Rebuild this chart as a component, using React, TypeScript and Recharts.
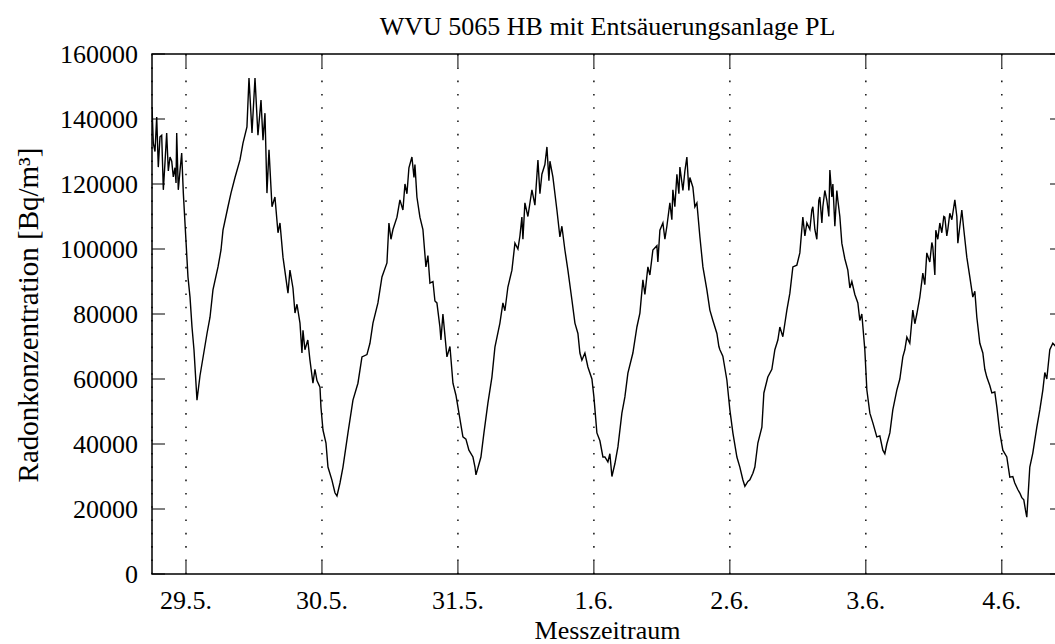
import {
  LineChart,
  Line,
  XAxis,
  YAxis,
  CartesianGrid,
  ReferenceArea,
} from "recharts";

// hours since 29.5. 00:00
const hours = [
  -6.0, -5.77, -5.47, -5.17, -4.89, -4.59, -4.29, -4.0, -3.71, -3.41,
  -3.12, -2.82, -2.52, -2.24, -1.94, -1.76, -1.64, -1.36, -1.06, -0.76,
  -0.47,
  0.35, 0.71, 1.06, 1.41, 1.94, 2.47, 3.71, 4.24, 4.76, 5.65,
  6.18, 6.53, 7.41, 7.94, 8.65, 9.53, 10.06, 10.76, 11.12, 11.65,
  12.18, 12.7, 13.24, 13.59, 13.94, 14.29, 14.65, 15.18, 15.7, 16.24,
  16.59, 17.12, 18.0, 18.35, 18.88, 19.24, 19.59, 20.12, 20.47, 20.65,
  20.99, 21.5, 21.88, 22.41, 22.76, 23.12, 23.65, 23.82, 24.18, 24.71,
  25.06, 25.76, 26.29, 26.65, 27.18, 27.71, 28.59, 29.47, 30.35, 31.06,
  31.94, 32.47, 33.0, 33.88, 34.59, 35.47, 35.82, 36.18, 36.53, 37.24,
  37.76, 38.29, 38.65, 39.0, 39.35, 39.88, 40.24, 40.41, 40.76, 41.29,
  41.82, 42.35, 42.7, 43.06, 43.59, 43.94, 44.29, 44.82, 45.0, 45.35,
  46.06, 46.59, 47.12,
  47.65, 48.18, 48.88, 49.41, 49.94, 50.65, 51.0, 51.18, 52.06, 52.59,
  53.29, 54.0, 54.53, 55.41, 55.94, 56.29, 56.82, 57.53, 58.06, 58.59,
  58.94, 59.29, 59.47, 59.82, 60.35, 61.06, 61.59, 62.12, 62.47, 62.82,
  63.35, 63.71, 64.06, 64.24, 64.76, 65.47, 66.0, 66.35, 66.88, 67.41,
  68.12, 68.65, 69.18, 69.53, 69.88, 70.41, 70.94, 71.65, 72.0, 72.53,
  73.06, 73.59,
  73.94, 74.47, 74.82, 75.18, 75.71, 76.24, 76.94, 77.47, 78.0, 78.88,
  79.59, 80.12, 80.65, 81.0, 81.53, 81.88, 82.41, 83.12, 83.29, 83.65,
  84.18, 84.53, 84.88, 85.41, 85.76, 85.94, 86.29, 86.65, 87.0, 87.18,
  87.71, 88.06, 88.41, 88.76, 88.94, 89.47, 89.82, 90.18, 90.71, 91.24,
  91.94, 92.47, 93.0, 93.71, 94.06, 94.24, 94.76, 95.47, 96.0, 96.53,
  97.24, 97.76, 98.29, 98.65, 99.18, 99.53,
  100.06, 100.41, 100.94, 101.65, 102.0, 102.7, 103.41, 103.94, 104.47, 104.82,
  105.35, 106.06, 106.59, 107.12, 107.82, 108.35, 108.88, 109.24, 109.59, 110.12,
  110.47, 110.65, 111.0, 111.35, 111.7, 111.88, 112.24, 112.41, 112.76, 113.12,
  113.47, 113.65, 114.0, 114.18, 114.53, 114.88, 115.06, 115.41, 115.76, 116.29,
  116.82, 117.18, 117.53, 118.06, 118.59, 118.94, 119.29, 119.82, 120.18, 120.71,
  121.24, 121.94, 122.47, 123.0, 123.35, 123.7, 124.24, 124.76, 125.47, 126.0,
  126.53,
  126.88, 127.24, 127.76, 128.29, 128.65, 129.0, 129.53, 130.06, 130.41, 130.76,
  131.29, 131.65, 131.82, 132.18, 132.35, 132.7, 133.06, 133.41, 133.76, 133.94,
  134.29, 134.47, 134.82, 135.18, 135.71, 136.06, 136.24, 136.59, 136.94, 137.29,
  137.82, 138.35, 138.88, 139.24, 139.59, 140.12, 140.65, 141.0, 141.35, 141.88,
  142.24, 142.76, 143.12, 143.65, 144.18, 144.88, 145.41, 145.94, 146.29, 146.82,
  147.18, 147.53, 147.88, 148.24, 148.41, 148.94, 149.47, 150.18, 150.71, 151.24,
  151.59, 151.94, 152.47, 153.0, 153.53,
];

// Bq/m³
const radon = [
  143700, 132600, 130000, 140600, 125200, 134500, 135000, 118200, 126500, 135700,
  124000, 128300, 127000, 122200, 125000, 120300, 135700, 118200, 124000, 129500,
  117200,
  91400, 85200, 76000, 69000, 53500, 61000, 74000, 79000, 87400, 94500,
  99700, 105800, 113000, 117200, 122000, 127400, 132600, 137600, 152600, 135700,
  152600, 135000, 145800, 133500, 141800, 117200, 130500, 113000, 116000, 105000,
  108000, 97500, 86400, 93500, 88000, 80300, 83000, 77200, 68000, 75000,
  69000, 72000, 65800, 58700, 63000, 59500, 57500, 51400, 44300, 40300,
  32900, 28900, 25000, 24000, 28000, 32900, 43400, 53500, 58700, 66800,
  67500, 71000, 77200, 83400, 91400, 95700, 108000, 103000, 106000, 109800,
  115100, 112000, 120000, 117000, 125000, 128300, 122000, 126000, 116000, 109800,
  106000, 94500, 98000, 89500, 90000, 84000, 83400, 76000, 72000, 80000,
  66800, 70000, 58700,
  55000, 49500, 42200, 41500, 38100, 36000, 33000, 30500, 36000, 43400,
  52600, 60600, 69800, 77200, 83400, 81000, 88300, 93500, 101800, 100000,
  104000, 109800, 103000, 114200, 110000, 118200, 113500, 127400, 117000, 123000,
  126000, 131400, 121000, 127000, 122200, 112000, 103700, 107000, 99700, 93500,
  84300, 77200, 74000, 68000, 65800, 68000, 63700, 60000, 54500, 43400,
  41000, 36000,
  36000, 34500, 37000, 30000, 34000, 39100, 49500, 54500, 61800, 68000,
  76000, 80300, 90500, 86000, 94500, 92000, 99700, 101000, 96000, 105800,
  108000, 103000, 107000, 114200, 109000, 118200, 113000, 123000, 117000, 125200,
  118000, 124000, 128300, 118000, 122000, 119000, 113000, 114200, 103700, 94500,
  87400, 81200, 78000, 74000, 70000, 69000, 67000, 59700, 50500, 43400,
  36000, 32900, 29000, 27000, 28500, 29000,
  31000, 32900, 40300, 45200, 55700, 60600, 63000, 69000, 72000, 76000,
  73000, 81200, 86400, 94500, 95000, 98800, 109800, 104000, 108000, 106000,
  112000, 113000, 106000, 103000, 115000, 116000, 108000, 113000, 118000, 115000,
  110000, 124300, 116000, 120000, 107000, 118000, 115000, 110000, 101800, 97000,
  93500, 88000, 90000, 86000, 83400, 78000, 80000, 69000, 56600, 49500,
  46500, 42200, 42500, 38100, 37000, 40000, 43400, 50500, 56600, 60000,
  66800,
  69000, 72900, 71000, 81200, 77000, 80000, 85200, 92600, 89000, 98800,
  96000, 102000, 100600, 92000, 105800, 103000, 108000, 105000, 110000, 109800,
  104000, 106000, 111000, 109000, 115100, 110000, 101800, 107000, 112000, 106000,
  97500, 91400, 85200, 87000, 79000, 71000, 68000, 63000, 60600, 58000,
  55700, 56000, 51400, 43400, 38100, 36000, 29800, 30000, 28000, 26000,
  24900, 23500, 22800, 19000, 17500, 32900, 37200, 45200, 50500, 56600,
  62000, 60000, 69000, 71000, 70000,
];

const dayTicks = [0, 24, 48, 72, 96, 120, 144];
const dayLabels = ["29.5.", "30.5.", "31.5.", "1.6.", "2.6.", "3.6.", "4.6."];
const yTicks = [0, 20000, 40000, 60000, 80000, 100000, 120000, 140000, 160000];

const data = hours.map((h, i) => ({ h, v: radon[i] }));

const FONT = "'Liberation Serif', 'Times New Roman', serif";
const PLOT_LEFT = 152;
const PLOT_RIGHT = 1063;
const PLOT_TOP = 54;
const PLOT_BOTTOM = 574;
const TICK_LEN = 13;

function YTick({ y, payload }: any) {
  return (
    <g>
      <line x1={PLOT_LEFT} x2={PLOT_LEFT + TICK_LEN} y1={y} y2={y} stroke="#000" />
      <line x1={PLOT_RIGHT - TICK_LEN} x2={PLOT_RIGHT} y1={y} y2={y} stroke="#000" />
      <text
        x={138}
        y={y}
        textAnchor="end"
        dominantBaseline="central"
        fontSize={26}
        fontFamily={FONT}
        fill="#000"
      >
        {payload.value}
      </text>
    </g>
  );
}

function XTick({ x, payload }: any) {
  const idx = dayTicks.indexOf(payload.value);
  return (
    <g>
      <line x1={x} x2={x} y1={PLOT_TOP} y2={PLOT_TOP + TICK_LEN} stroke="#000" />
      <line x1={x} x2={x} y1={PLOT_BOTTOM - TICK_LEN} y2={PLOT_BOTTOM} stroke="#000" />
      <text
        x={x}
        y={600}
        textAnchor="middle"
        dominantBaseline="central"
        fontSize={26}
        fontFamily={FONT}
        fill="#000"
      >
        {dayLabels[idx]}
      </text>
    </g>
  );
}

export default function App() {
  return (
    <div
      style={{
        position: "absolute",
        left: 0,
        top: 0,
        width: 1055,
        height: 644,
        overflow: "hidden",
        background: "#fff",
        fontFamily: FONT,
      }}
    >
      <div
        style={{
          position: "absolute",
          left: PLOT_LEFT,
          width: PLOT_RIGHT - PLOT_LEFT,
          top: 12,
          textAlign: "center",
          fontSize: 26,
          lineHeight: "30px",
          color: "#000",
        }}
      >
        WVU 5065 HB mit Entsäuerungsanlage PL
      </div>
      <div
        style={{
          position: "absolute",
          left: 28,
          top: 315,
          transform: "translate(-50%, -50%) rotate(-90deg)",
          whiteSpace: "nowrap",
          fontSize: 29,
          lineHeight: "32px",
          color: "#000",
        }}
      >
        Radonkonzentration [Bq/m³]
      </div>
      <div
        style={{
          position: "absolute",
          left: PLOT_LEFT,
          width: PLOT_RIGHT - PLOT_LEFT,
          top: 616,
          textAlign: "center",
          fontSize: 26,
          lineHeight: "30px",
          color: "#000",
        }}
      >
        Messzeitraum
      </div>
      <LineChart
        width={1075}
        height={644}
        data={data}
        margin={{ top: PLOT_TOP, right: 1075 - PLOT_RIGHT, bottom: 0, left: 0 }}
      >
        <CartesianGrid
          horizontal={false}
          stroke="#000"
          strokeWidth={1.4}
          strokeDasharray="1.6 11.7"
        />
        <XAxis
          dataKey="h"
          type="number"
          domain={[-6, 154.8]}
          ticks={dayTicks}
          interval={0}
          height={644 - PLOT_BOTTOM - 0}
          axisLine={false}
          tickLine={false}
          tick={<XTick />}
          allowDataOverflow
        />
        <YAxis
          domain={[0, 160000]}
          ticks={yTicks}
          interval={0}
          width={PLOT_LEFT}
          axisLine={false}
          tickLine={false}
          tick={<YTick />}
          allowDataOverflow
        />
        <ReferenceArea
          x1={-6}
          x2={154.8}
          y1={0}
          y2={160000}
          fill="none"
          stroke="#000"
          strokeWidth={1.5}
          ifOverflow="visible"
        />
        <Line
          type="linear"
          dataKey="v"
          stroke="#000"
          strokeWidth={1.4}
          dot={false}
          isAnimationActive={false}
        />
      </LineChart>
    </div>
  );
}
